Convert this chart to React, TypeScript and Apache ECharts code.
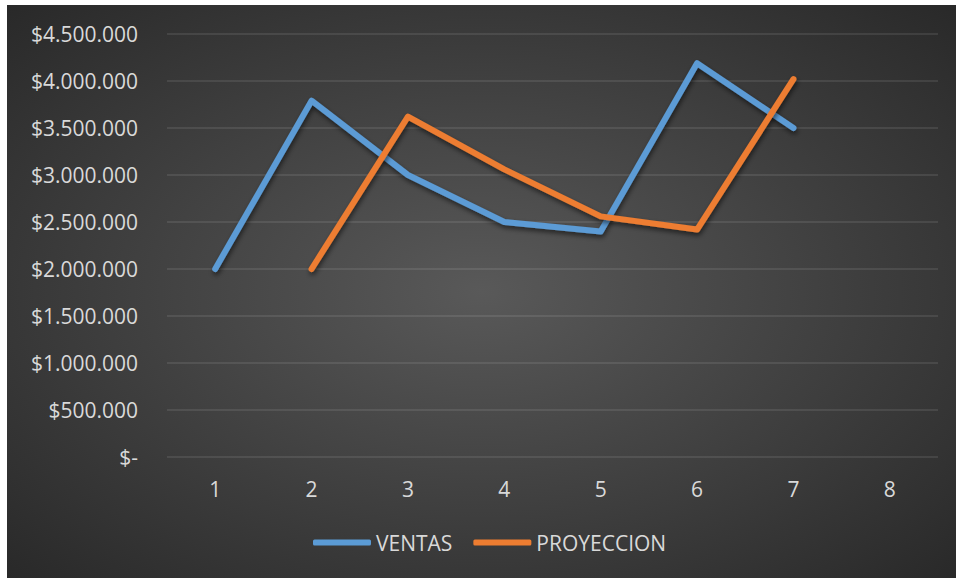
import React, { useEffect, useRef } from "react";
import * as echarts from "echarts";

const categories = ["1", "2", "3", "4", "5", "6", "7", "8"];
const ventas: (number | null)[] = [2000000, 3790000, 3000000, 2500000, 2400000, 4190000, 3500000, null];
const proyeccion: (number | null)[] = [null, 2000000, 3620000, 3060000, 2560000, 2420000, 4020000, null];
const yMax = 4500000;
const yStep = 500000;

function fmt(v: number): string {
  if (v === 0) return "$-";
  return "$" + String(Math.round(v)).replace(/\B(?=(\d{3})+(?!\d))/g, ".");
}

export default function App() {
  const ref = useRef<HTMLDivElement>(null);
  useEffect(() => {
    if (!ref.current) return;
    const chart = echarts.init(ref.current, null, { renderer: "svg" });
    const font = "Open Sans";
    const textColor = "#d9d9d9";
    const lineCommon = (color: string) => ({
      type: "line" as const,
      showSymbol: false,
      symbol: "none",
      lineStyle: {
        color,
        width: 6,
        cap: "round" as const,
        join: "round" as const,
        shadowColor: "rgba(0,0,0,0.55)",
        shadowBlur: 5,
        shadowOffsetY: 3,
        shadowOffsetX: 1,
      },
      itemStyle: { color },
    });
    chart.setOption({
      animation: false,
      backgroundColor: {
        type: "radial",
        x: 0.5,
        y: 0.5,
        r: 0.75,
        colorStops: [
          { offset: 0, color: "#595959" },
          { offset: 1, color: "#262626" },
        ],
      },
      textStyle: { fontFamily: font },
      grid: { left: 160, right: 18, top: 29, bottom: 121, containLabel: false },
      legend: {
        bottom: 20,
        left: 301,
        icon: "roundRect",
        itemWidth: 58,
        itemHeight: 6,
        itemGap: 21,
        textStyle: { color: textColor, fontSize: 21, fontFamily: font },
        data: ["VENTAS", "PROYECCION"],
      },
      xAxis: {
        type: "category",
        data: categories,
        boundaryGap: true,
        axisLine: { show: false },
        axisTick: { show: false },
        axisLabel: { color: textColor, fontSize: 21, margin: 21, fontFamily: font },
        splitLine: { show: false },
      },
      yAxis: {
        type: "value",
        min: 0,
        max: yMax,
        interval: yStep,
        axisLine: { show: false },
        axisTick: { show: false },
        axisLabel: { color: textColor, fontSize: 21, margin: 29, fontFamily: font, formatter: (v: number) => fmt(v) },
        splitLine: { lineStyle: { color: "rgba(255,255,255,0.12)", width: 1.5 } },
      },
      series: [
        { name: "VENTAS", data: ventas, ...lineCommon("#5b9bd5") },
        { name: "PROYECCION", data: proyeccion, ...lineCommon("#ed7d31") },
      ],
    });
    return () => chart.dispose();
  }, []);
  return (
    <div
      ref={ref}
      style={{ position: "absolute", left: 7, top: 5, width: 949, height: 573 }}
    />
  );
}
